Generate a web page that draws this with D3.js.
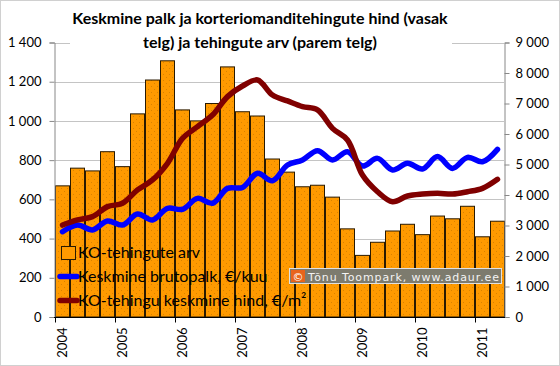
<!DOCTYPE html>
<html>
<head>
<meta charset="utf-8">
<script src="https://d3js.org/d3.v7.min.js"></script>
<style>
  body {margin: 0; background: #fff;}
  svg {display: block; font-family: Lato, "Open Sans", sans-serif;}
  .tick text {font: 13px Lato, sans-serif; fill: #000;}
</style>
</head>
<body>
<svg id="chart" width="560" height="366"></svg>
<script>
// quarters 2004 Q1 .. 2011 Q2
var quarters = ["2004-1","2004-2","2004-3","2004-4","2005-1","2005-2","2005-3","2005-4",
  "2006-1","2006-2","2006-3","2006-4","2007-1","2007-2","2007-3","2007-4",
  "2008-1","2008-2","2008-3","2008-4","2009-1","2009-2","2009-3","2009-4",
  "2010-1","2010-2","2010-3","2010-4","2011-1","2011-2"];
var years = ["2004","2005","2006","2007","2008","2009","2010","2011"];

// KO-tehingute arv (right axis)
var deals = [4300,4880,4790,5420,4930,6660,7770,8400,6790,6430,7000,8200,6730,6590,5180,4750,
  4270,4320,3930,2890,2020,2450,2820,3040,2700,3310,3220,3630,2630,3140];
// Keskmine brutopalk, €/kuu (left axis)
var wage = [435,469,444,490,469,525,495,554,549,605,580,656,661,733,695,775,
  801,848,801,843,770,809,750,784,755,818,758,814,792,855];
// KO-tehingu keskmine hind, €/m2 (left axis)
var price = [469,495,512,563,580,648,699,784,911,971,1030,1124,1178,1209,1132,1102,
  1073,1056,962,903,724,639,588,617,627,631,627,639,656,702];

var leftTicks = [0,200,400,600,800,1000,1200,1400];
var rightTicks = [0,1000,2000,3000,4000,5000,6000,7000,8000,9000];
var seriesNames = ["KO-tehingute arv", "Keskmine brutopalk, €/kuu", "KO-tehingu keskmine hind, €/m²"];

var svg = d3.select("#chart");
var x = d3.scaleBand().domain(quarters).range([55, 505]).padding(0);
var yL = d3.scaleLinear().domain([0, 1400]).range([317, 42.5]);
var yR = d3.scaleLinear().domain([0, 9000]).range([317, 42.5]);

// frame
svg.append("rect").attr("x", 0.5).attr("y", 0.5).attr("width", 559).attr("height", 365)
  .attr("fill", "#fff").attr("stroke", "#d0d0d0");

// dotted bar texture
var pat = svg.append("defs").append("pattern").attr("id", "dots")
  .attr("width", 6).attr("height", 6).attr("patternUnits", "userSpaceOnUse");
pat.append("rect").attr("width", 6).attr("height", 6).attr("fill", "#ff9a00");
pat.append("rect").attr("x", 1).attr("y", 2).attr("width", 1).attr("height", 1).attr("fill", "#d98300");
pat.append("rect").attr("x", 4).attr("y", 5).attr("width", 1).attr("height", 1).attr("fill", "#d98300");

// gridlines
svg.append("g").selectAll("line").data(leftTicks.slice(1)).enter().append("line")
  .attr("x1", 55).attr("x2", 504)
  .attr("y1", function(d) { return Math.round(yL(d)) + 0.5; })
  .attr("y2", function(d) { return Math.round(yL(d)) + 0.5; })
  .attr("stroke", "#c4c4c4");

// bars
svg.append("g").selectAll("rect").data(deals).enter().append("rect")
  .attr("x", function(d, i) { return x(quarters[i]) + 0.5; })
  .attr("y", function(d) { return yR(d); })
  .attr("width", x.bandwidth() - 1)
  .attr("height", function(d) { return 317 - yR(d); })
  .attr("fill", "url(#dots)")
  .attr("stroke", "#2a1a00").attr("stroke-width", 1);

// lines
var line = function(vals) {
  return d3.line()
    .x(function(d, i) { return x(quarters[i]) + x.bandwidth() / 2; })
    .y(function(d) { return yL(d); })
    .curve(d3.curveCatmullRom.alpha(0.5))(vals);
};
svg.append("path").attr("d", line(wage)).attr("fill", "none")
  .attr("stroke", "#0000ff").attr("stroke-width", 5.5).attr("stroke-linecap", "round");
svg.append("path").attr("d", line(price)).attr("fill", "none")
  .attr("stroke", "#800000").attr("stroke-width", 5.5).attr("stroke-linecap", "round");

// axes
var axL = svg.append("g").attr("transform", "translate(54.5,0)")
  .call(d3.axisLeft(yL).tickValues(leftTicks).tickSize(5).tickPadding(8)
    .tickFormat(function(d) { return d3.format(",")(d).replace(",", " "); }));
axL.selectAll("path, line").attr("stroke", "#888");

var axR = svg.append("g").attr("transform", "translate(504.5,0)")
  .call(d3.axisRight(yR).tickValues(rightTicks).tickSize(5).tickPadding(6)
    .tickFormat(function(d) { return d3.format(",")(d).replace(",", " "); }));
axR.selectAll("path, line").attr("stroke", "#888");

var axB = svg.append("g").attr("transform", "translate(0,317.5)");
axB.append("line").attr("x1", 54).attr("x2", 505).attr("stroke", "#000");
axB.selectAll("line.yt").data(years).enter().append("line").attr("class", "yt")
  .attr("x1", function(d) { return Math.round(x(d + "-1")) + 0.5; })
  .attr("x2", function(d) { return Math.round(x(d + "-1")) + 0.5; })
  .attr("y1", 0).attr("y2", 5).attr("stroke", "#000");
axB.selectAll("text").data(years).enter().append("text")
  .attr("transform", function(d) { return "translate(" + (x(d + "-1") + 12) + ",10) rotate(-90)"; })
  .attr("text-anchor", "end")
  .attr("font-size", 13)
  .text(function(d) { return d; });

// title
svg.append("rect").attr("x", 70).attr("y", 4).attr("width", 382).attr("height", 50).attr("fill", "#fff");
var title = svg.append("text").attr("text-anchor", "middle").attr("font-size", 16)
  .attr("font-weight", "bold").attr("fill", "#000");
title.append("tspan").attr("x", 260).attr("y", 24).text("Keskmine palk ja korteriomanditehingute hind (vasak");
title.append("tspan").attr("x", 260).attr("y", 48).text("telg) ja tehingute arv (parem telg)");

// legend
var lg = svg.append("g");
lg.append("rect").attr("x", 61.5).attr("y", 246.5).attr("width", 14).attr("height", 13)
  .attr("fill", "#ff9a00").attr("stroke", "#2a1a00");
lg.append("line").attr("x1", 60).attr("x2", 77).attr("y1", 276.5).attr("y2", 276.5)
  .attr("stroke", "#0000ff").attr("stroke-width", 5.5).attr("stroke-linecap", "round");
lg.append("line").attr("x1", 60).attr("x2", 77).attr("y1", 300.5).attr("y2", 300.5)
  .attr("stroke", "#800000").attr("stroke-width", 5.5).attr("stroke-linecap", "round");
lg.selectAll("text").data(seriesNames).enter().append("text")
  .attr("x", 78).attr("y", function(d, i) { return 258 + i * 24; })
  .attr("font-size", 16).attr("fill", "#000")
  .text(function(d) { return d; });

// copyright
var cp = svg.append("g");
cp.append("rect").attr("x", 289.5).attr("y", 268.5).attr("width", 212).attr("height", 15)
  .attr("fill", "#7d7b6e").attr("stroke", "#e0e0e0");
cp.append("rect").attr("x", 291).attr("y", 270).attr("width", 14).attr("height", 12).attr("fill", "#e8641c");
cp.append("text").attr("x", 298).attr("y", 280.5).attr("text-anchor", "middle")
  .attr("font-family", "DejaVu Sans").attr("font-size", 11).attr("fill", "#fff").text("©");
cp.append("text").attr("x", 308).attr("y", 280.5)
  .attr("font-family", "DejaVu Sans").attr("font-size", 11).attr("fill", "#f4f4f4")
  .attr("textLength", 191).text("Tõnu Toompark, www.adaur.ee");
</script>
</body>
</html>
